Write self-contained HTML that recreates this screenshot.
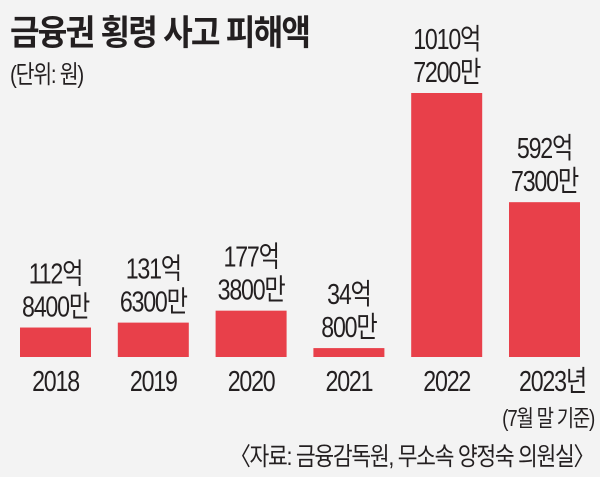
<!DOCTYPE html>
<html><head><meta charset="utf-8"><style>
body{margin:0;background:#f3f3f3;}
#c{position:relative;width:600px;height:477px;background:#f3f3f3;overflow:hidden;font-family:"Liberation Sans","Noto Sans CJK KR",sans-serif;color:#231f20;}
.t{position:absolute;white-space:nowrap;}
</style></head><body>
<div id="c">
<div class="t" style="left:10px;top:5px;font-size:35px;font-weight:bold;letter-spacing:-2px;transform:scaleX(0.92);transform-origin:left top;">금융권 횡령 사고 피해액</div>
<div class="t" style="left:10px;top:55px;font-size:25px;letter-spacing:-1.5px;transform:scaleX(0.82);transform-origin:left top;">(단위: 원)</div>
<svg id="s" width="600" height="477" style="position:absolute;left:0;top:0"></svg>
<div class="t" style="right:6px;top:399px;font-size:23px;letter-spacing:-1.5px;transform:scaleX(0.82);transform-origin:right top;">(7월 말 기준)</div>
<div class="t" style="right:6px;top:437px;font-size:25px;letter-spacing:-1.5px;transform:scaleX(0.86);transform-origin:right top;">〈자료: 금융감독원, 무소속 양정숙 의원실〉</div>
</div>
<script>
const categories=["2018","2019","2020","2021","2022","2023년"];
const values=[112.84,131.63,177.38,34.08,1010.72,592.73];
const labelTop=["112억","131억","177억","34억","1010억","592억"];
const labelBottom=["8400만","6300만","3800만","800만","7200만","7300만"];
const NS="http://www.w3.org/2000/svg";
const s=document.getElementById('s');
const x0=20,step=97.8,bw=71,base=357,maxH=264,maxV=1010.72;
const y=v=>base-v/maxV*maxH;
function txt(x,yy,str,size,name){const t=document.createElementNS(NS,'text');


t.setAttribute('transform','translate('+x+','+yy+') scale(0.8,1)');
t.setAttribute('text-anchor','middle');
t.setAttribute('font-size',size);t.setAttribute('letter-spacing','-1.5');t.setAttribute('fill','#231f20');
t.setAttribute('font-family','"Liberation Sans","Noto Sans CJK KR",sans-serif');t.textContent=str;s.appendChild(t);}
categories.forEach((c,i)=>{
 const bx=x0+i*step,top=y(values[i]);
 const r=document.createElementNS(NS,'rect');
 
 
 r.setAttribute('x',bx);r.setAttribute('y',top);r.setAttribute('width',bw);r.setAttribute('height',base-top);r.setAttribute('fill','#e8404a');
 s.appendChild(r);
 const cx=bx+bw/2;
 txt(cx,top-44,labelTop[i],29,'value-label-top');
 txt(cx,top-11,labelBottom[i],29,'value-label-bottom');
 txt(cx+(i==5?8:0),391,c,29,'x-axis-label');
});
</script>
</body></html>
